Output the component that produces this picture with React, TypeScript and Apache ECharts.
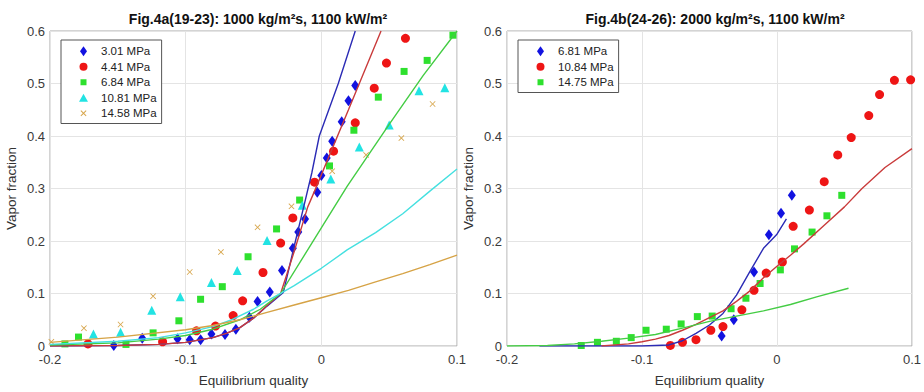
import React, { useEffect, useRef } from "react";
import * as echarts from "echarts";

// ---------- Data: Fig.4a (left) ----------
const leftNames = ["3.01 MPa", "4.41 MPa", "6.84 MPa", "10.81 MPa", "14.58 MPa"];
const a301: [number, number][] = [
  [-0.153, 0.001], [-0.132, 0.015], [-0.106, 0.014], [-0.097, 0.012], [-0.089, 0.012],
  [-0.081, 0.023], [-0.071, 0.022], [-0.063, 0.032], [-0.053, 0.055], [-0.047, 0.085],
  [-0.038, 0.103], [-0.029, 0.144], [-0.021, 0.186], [-0.017, 0.217], [-0.012, 0.242],
  [-0.003, 0.293], [0.0, 0.325], [0.004, 0.358], [0.008, 0.39], [0.015, 0.427],
  [0.02, 0.467], [0.025, 0.496],
];
const a441: [number, number][] = [
  [-0.172, 0.004], [-0.117, 0.008], [-0.092, 0.029], [-0.078, 0.038], [-0.065, 0.058],
  [-0.058, 0.086], [-0.043, 0.14], [-0.03, 0.196], [-0.021, 0.244], [-0.005, 0.312],
  [0.009, 0.371], [0.025, 0.425], [0.039, 0.491], [0.048, 0.539], [0.062, 0.586],
];
const a684: [number, number][] = [
  [-0.189, 0.004], [-0.179, 0.017], [-0.144, 0.003], [-0.124, 0.025], [-0.105, 0.048],
  [-0.089, 0.089], [-0.073, 0.113], [-0.054, 0.17], [-0.033, 0.223], [-0.016, 0.278],
  [0.006, 0.343], [0.024, 0.411], [0.042, 0.474], [0.061, 0.523], [0.078, 0.544],
  [0.097, 0.592],
];
const a1081: [number, number][] = [
  [-0.168, 0.023], [-0.148, 0.026], [-0.125, 0.068], [-0.104, 0.094], [-0.081, 0.121],
  [-0.062, 0.144], [-0.04, 0.201], [-0.014, 0.268], [0.007, 0.318], [0.028, 0.379],
  [0.05, 0.421], [0.072, 0.486], [0.091, 0.492],
];
const a1458: [number, number][] = [
  [-0.199, 0.008], [-0.175, 0.034], [-0.148, 0.041], [-0.124, 0.095], [-0.097, 0.141],
  [-0.074, 0.179], [-0.047, 0.226], [-0.022, 0.266], [0.008, 0.333], [0.033, 0.364],
  [0.059, 0.396], [0.082, 0.461],
];
const aLine301: [number, number][] = [
  [-0.2, 0], [-0.15, 0.001], [-0.12, 0.003], [-0.1, 0.007], [-0.08, 0.016], [-0.07, 0.024],
  [-0.06, 0.035], [-0.05, 0.053], [-0.04, 0.076], [-0.028, 0.102], [-0.02, 0.19],
  [-0.013, 0.265], [-0.007, 0.33], [-0.0015, 0.4], [0.0125, 0.5], [0.025, 0.6],
];
const aLine441: [number, number][] = [
  [-0.2, 0], [-0.15, 0.001], [-0.12, 0.003], [-0.1, 0.007], [-0.08, 0.016], [-0.07, 0.024],
  [-0.06, 0.035], [-0.05, 0.053], [-0.04, 0.077], [-0.03, 0.1], [-0.02, 0.18],
  [-0.01, 0.265], [-0.005, 0.295], [0.02, 0.45], [0.044, 0.6],
];
const aLine684: [number, number][] = [
  [-0.2, 0.002], [-0.15, 0.006], [-0.12, 0.013], [-0.1, 0.02], [-0.08, 0.032], [-0.06, 0.05],
  [-0.045, 0.07], [-0.03, 0.1], [0.0, 0.225], [0.019, 0.304], [0.05, 0.422], [0.075, 0.515],
  [0.1, 0.6],
];
const aLine1081: [number, number][] = [
  [-0.2, 0.003], [-0.15, 0.009], [-0.12, 0.016], [-0.1, 0.025], [-0.08, 0.037], [-0.067, 0.049],
  [-0.05, 0.07], [-0.04, 0.086], [-0.028, 0.103], [-0.02, 0.115], [0, 0.148], [0.019, 0.183],
  [0.04, 0.216], [0.06, 0.252], [0.08, 0.295], [0.1, 0.337],
];
const aLine1458: [number, number][] = [
  [-0.2, 0.007], [-0.15, 0.017], [-0.1, 0.031], [-0.08, 0.039], [-0.06, 0.05], [-0.04, 0.064],
  [-0.02, 0.078], [0, 0.092], [0.02, 0.106], [0.04, 0.122], [0.06, 0.138], [0.08, 0.155],
  [0.1, 0.173],
];

// ---------- Data: Fig.4b (right) ----------
const rightNames = ["6.81 MPa", "10.84 MPa", "14.75 MPa"];
const b681: [number, number][] = [
  [-0.041, 0.019], [-0.032, 0.05], [-0.017, 0.141], [-0.006, 0.212], [0.003, 0.253],
  [0.011, 0.287],
];
const b1084: [number, number][] = [
  [-0.079, 0.001], [-0.07, 0.007], [-0.06, 0.012], [-0.049, 0.03], [-0.04, 0.037],
  [-0.026, 0.069], [-0.017, 0.106], [-0.008, 0.139], [0.004, 0.16], [0.012, 0.228],
  [0.024, 0.259], [0.035, 0.313], [0.045, 0.364], [0.055, 0.397], [0.068, 0.439],
  [0.076, 0.479], [0.087, 0.506], [0.099, 0.507],
];
const b1475: [number, number][] = [
  [-0.145, 0.001], [-0.133, 0.007], [-0.119, 0.009], [-0.108, 0.016], [-0.097, 0.03],
  [-0.082, 0.032], [-0.071, 0.042], [-0.059, 0.056], [-0.048, 0.057], [-0.034, 0.071],
  [-0.023, 0.091], [-0.0125, 0.119], [0.0025, 0.145], [0.013, 0.185], [0.026, 0.217],
  [0.037, 0.248], [0.048, 0.287],
];
const bLine681: [number, number][] = [
  [-0.176, 0], [-0.1, 0], [-0.08, 0.002], [-0.07, 0.01], [-0.06, 0.024], [-0.05, 0.04],
  [-0.04, 0.062], [-0.03, 0.097], [-0.02, 0.142], [-0.01, 0.186], [0, 0.213], [0.007, 0.242],
];
const bLine1084: [number, number][] = [
  [-0.13, 0], [-0.11, 0.004], [-0.1, 0.008], [-0.09, 0.013], [-0.08, 0.02], [-0.07, 0.03],
  [-0.06, 0.041], [-0.05, 0.054], [-0.04, 0.067], [-0.03, 0.085], [-0.02, 0.105], [-0.01, 0.13],
  [0, 0.152], [0.01, 0.173], [0.02, 0.195], [0.035, 0.23], [0.05, 0.265], [0.063, 0.3],
  [0.08, 0.34], [0.1, 0.376],
];
const bLine1475: [number, number][] = [
  [-0.2, 0], [-0.17, 0.001], [-0.15, 0.004], [-0.13, 0.009], [-0.11, 0.015], [-0.09, 0.022],
  [-0.07, 0.034], [-0.05, 0.047], [-0.03, 0.057], [-0.01, 0.067], [0.01, 0.079], [0.03, 0.094],
  [0.053, 0.11],
];

const titles = [
  "Fig.4a(19-23): 1000 kg/m²s, 1100 kW/m²",
  "Fig.4b(24-26): 2000 kg/m²s, 1100 kW/m²",
];

const FONT = "'Liberation Sans', Arial, Helvetica, sans-serif";
const C = {
  blue: "#1212e0",
  red: "#ee1515",
  green: "#2ee02e",
  cyan: "#22e3e3",
  tan: "#d7a64c",
  lblue: "#2b2bb5",
  lred: "#c93b3b",
  lgreen: "#44cc44",
  lcyan: "#45e0e0",
  ltan: "#d6a346",
};
const XSYM = "path://M1,0L5,4L9,0L10,1L6,5L10,9L9,10L5,6L1,10L0,9L4,5L0,1Z";

// legend icons drawn inside a fixed 25x10 box (corner points fix the bounding box)
const BOX = "path://M0,0L0,0M25,10L25,10";
const ICONS: Record<string, string> = {
  diamond: BOX + "M12.5,0L16,5L12.5,10L9,5Z",
  circle: BOX + "M8.5,5A4,4,0,1,1,16.5,5A4,4,0,1,1,8.5,5Z",
  rect: BOX + "M9.5,2H15.5V8H9.5Z",
  triangle: BOX + "M12.5,1L17,9L8,9Z",
  x: BOX + "M9.5,2.7L10.2,2L12.5,4.3L14.8,2L15.5,2.7L13.2,5L15.5,7.3L14.8,8L12.5,5.7L10.2,8L9.5,7.3L11.8,5Z",
};
const leftIcons = ["diamond", "circle", "rect", "triangle", "x"];
const rightIcons = ["diamond", "circle", "rect"];

function scatter(name: string, data: [number, number][], idx: number, symbol: string, size: any, color: string) {
  return {
    type: "scatter",
    name,
    data,
    xAxisIndex: idx,
    yAxisIndex: idx,
    symbol,
    symbolSize: size,
    itemStyle: { color, opacity: 1 },
    z: 3,
  };
}
function line(name: string, data: [number, number][], idx: number, color: string) {
  return {
    type: "line",
    name,
    data,
    xAxisIndex: idx,
    yAxisIndex: idx,
    showSymbol: false,
    symbol: "none",
    smooth: false,
    lineStyle: { color, width: 1.4 },
    z: 4,
  };
}

const fmt = (v: number) => (Math.abs(v) < 1e-9 ? "0" : String(Math.round(v * 10) / 10));

function xAxis(idx: number) {
  return {
    type: "value",
    gridIndex: idx,
    min: -0.2,
    max: 0.1,
    interval: 0.1,
    name: "Equilibrium quality",
    nameLocation: "middle",
    nameGap: 27,
    nameTextStyle: { color: "#333", fontSize: 13.5, fontFamily: FONT },
    axisLine: { show: false },
    axisTick: { show: false },
    axisLabel: { color: "#3a3a3a", fontSize: 13, fontFamily: FONT, margin: 7, formatter: fmt },
    splitLine: { show: true, lineStyle: { color: "#e4e4e4", width: 1 } },
  };
}
function yAxis(idx: number) {
  return {
    type: "value",
    gridIndex: idx,
    min: 0,
    max: 0.6,
    interval: 0.1,
    name: "Vapor fraction",
    nameLocation: "middle",
    nameGap: 32,
    nameRotate: 90,
    nameTextStyle: { color: "#333", fontSize: 13.5, fontFamily: FONT },
    axisLine: { show: false },
    axisTick: { show: false },
    axisLabel: { color: "#3a3a3a", fontSize: 13, fontFamily: FONT, margin: 5, formatter: fmt },
    splitLine: { show: true, lineStyle: { color: "#e4e4e4", width: 1 } },
  };
}
function legend(left: number, names: string[], icons: string[]) {
  return {
    left,
    top: 40,
    orient: "vertical",
    data: names.map((n, i) => ({ name: n, icon: ICONS[icons[i]] })),
    backgroundColor: "#fff",
    borderColor: "#555",
    borderWidth: 1,
    borderRadius: 0,
    padding: [5, 5, 4, 10],
    itemWidth: 25,
    itemHeight: 10,
    itemGap: 3,
    selectedMode: false,
    textStyle: { color: "#222", fontSize: 11.5, fontFamily: FONT, lineHeight: 12.5 },
  };
}

export default function App() {
  const ref = useRef<HTMLDivElement>(null);
  useEffect(() => {
    if (!ref.current) return;
    const chart = echarts.init(ref.current, undefined, { renderer: "svg" });
    chart.setOption({
      animation: false,
      backgroundColor: "#fff",
      textStyle: { fontFamily: FONT },
      title: [
        {
          text: titles[0],
          left: 253,
          top: 7,
          textAlign: "center",
          textStyle: { fontSize: 14, fontWeight: "bold", color: "#111", fontFamily: FONT },
        },
        {
          text: titles[1],
          left: 710,
          top: 7,
          textAlign: "center",
          textStyle: { fontSize: 14, fontWeight: "bold", color: "#111", fontFamily: FONT },
        },
      ],
      grid: [
        { left: 50, top: 31, width: 407, height: 322, show: true, borderColor: "#a8a8a8", borderWidth: 1, backgroundColor: "transparent" },
        { left: 507, top: 31, width: 407, height: 322, show: true, borderColor: "#a8a8a8", borderWidth: 1, backgroundColor: "transparent" },
      ],
      xAxis: [xAxis(0), xAxis(1)],
      yAxis: [yAxis(0), yAxis(1)],
      legend: [legend(61, leftNames, leftIcons), legend(518, rightNames, rightIcons)],
      series: [
        scatter(leftNames[0], a301, 0, "diamond", [8, 11], C.blue),
        scatter(leftNames[1], a441, 0, "circle", 9, C.red),
        scatter(leftNames[2], a684, 0, "rect", 7, C.green),
        scatter(leftNames[3], a1081, 0, "triangle", 9, C.cyan),
        scatter(leftNames[4], a1458, 0, XSYM, 6, C.tan),
        line("model 3.01", aLine301, 0, C.lblue),
        line("model 4.41", aLine441, 0, C.lred),
        line("model 6.84", aLine684, 0, C.lgreen),
        line("model 10.81", aLine1081, 0, C.lcyan),
        line("model 14.58", aLine1458, 0, C.ltan),
        scatter(rightNames[0], b681, 1, "diamond", [8, 11], C.blue),
        scatter(rightNames[1], b1084, 1, "circle", 9, C.red),
        scatter(rightNames[2], b1475, 1, "rect", 7, C.green),
        line("model 6.81", bLine681, 1, C.lblue),
        line("model 10.84", bLine1084, 1, C.lred),
        line("model 14.75", bLine1475, 1, C.lgreen),
      ],
    });
    return () => chart.dispose();
  }, []);
  return <div ref={ref} style={{ position: "fixed", left: 0, top: 0, width: 924, height: 392 }} />;
}
